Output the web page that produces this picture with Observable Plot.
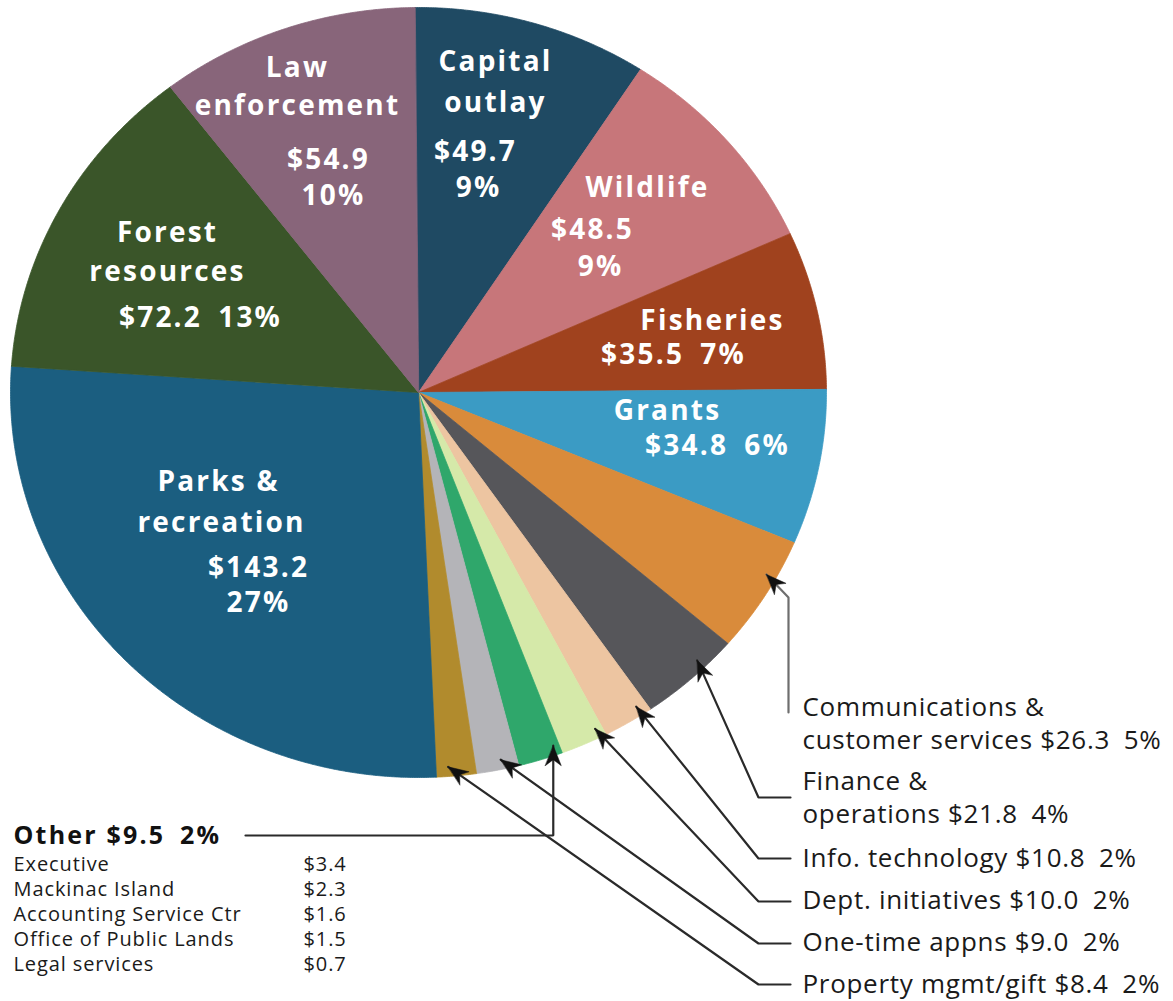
<!DOCTYPE html>
<html>
<head>
<meta charset="utf-8">
<script src="https://cdn.jsdelivr.net/npm/d3@7"></script>
<script src="https://cdn.jsdelivr.net/npm/@observablehq/plot@0.6"></script>
<style>
html, body { margin: 0; padding: 0; background: #ffffff; overflow: hidden; }
#chart svg { display: block; }
</style>
</head>
<body>
<div id="chart"></div>
<script>
// ---------------- DATA ----------------
const categories = [
  "Capital outlay", "Wildlife", "Fisheries", "Grants",
  "Communications & customer services", "Finance & operations",
  "Info. technology", "Dept. initiatives", "Other", "One-time appns",
  "Property mgmt/gift", "Parks & recreation", "Forest resources", "Law enforcement"
];
const amounts = [49.7, 48.5, 35.5, 34.8, 26.3, 21.8, 10.8, 10.0, 9.5, 9.0, 8.4, 143.2, 72.2, 54.9];
const percents = [9, 9, 7, 6, 5, 4, 2, 2, 2, 2, 2, 27, 13, 10];
const colors = [
  "#1f4a63", "#c7767a", "#a0421e", "#3b9bc4",
  "#d98b3b", "#56565a", "#edc5a1", "#d5e9a9", "#2fa76b", "#b4b4b8",
  "#b18b2d", "#1b5e80", "#3a5529", "#88657a"
];
const otherItems = ["Executive", "Mackinac Island", "Accounting Service Ctr", "Office of Public Lands", "Legal services"];
const otherAmounts = [3.4, 2.3, 1.6, 1.5, 0.7];

// ---------------- LAYOUT ----------------
const W = 1173, H = 1001;
const pieGeom = {cx: 418, cy: 392, rx: 408, ry: 385, startDeg: -0.5};

// inside labels: pixel positions of title lines and value lines
const insideLayout = [
  {name: "Capital outlay",     title: [[495, 62], [495, 103]], value: [[475, 152], [478, 188]]},
  {name: "Law enforcement",    title: [[297, 68], [297, 106]], value: [[328, 160], [333, 196]]},
  {name: "Wildlife",           title: [[647, 188]],            value: [[592, 230], [600, 267]]},
  {name: "Fisheries",          title: [[712, 321]],            value: [[673, 355]]},
  {name: "Grants",             title: [[667, 411]],            value: [[717, 446]]},
  {name: "Parks & recreation", title: [[218, 482], [221, 523]], value: [[258, 568], [258, 603]]},
  {name: "Forest resources",   title: [[167, 233], [167, 272]], value: [[200, 318]]}
];

// callouts on the right: text position, route of leader, tip position within slice
const calloutLayout = [
  {name: "Communications & customer services", tx: 802, ty: 707, gap: 33, route: [[788, 712], [788, 597]], tipFrac: 0.34, stroke: "#6e6e6e"},
  {name: "Finance & operations", tx: 802, ty: 781, gap: 33, route: [[790, 797], [758, 797]], tipFrac: 0.33, stroke: "#2a2a2a"},
  {name: "Info. technology",     tx: 802, ty: 858, gap: 0,  route: [[790, 858], [758, 858]], tipFrac: 0.20, stroke: "#2a2a2a"},
  {name: "Dept. initiatives",    tx: 802, ty: 900, gap: 0,  route: [[790, 901], [758, 901]], tipFrac: 0.15, stroke: "#2a2a2a"},
  {name: "One-time appns",       tx: 802, ty: 942, gap: 0,  route: [[790, 943], [758, 943]], tipFrac: 0.38, stroke: "#2a2a2a"},
  {name: "Property mgmt/gift",   tx: 802, ty: 984, gap: 0,  route: [[790, 984], [758, 984]], tipFrac: 0.69, stroke: "#2a2a2a"}
];
const otherLayout = {x: 13, y: 835, lineStart: 245, tipFrac: 0.13, listY0: 864, listGap: 25, valueX: 303};
const tipRadius = 0.975;
const headLen = 20, headHalf = 8, headNotch = 14;

// ---------------- GEOMETRY FROM DATA ----------------
const a0 = pieGeom.startDeg * Math.PI / 180;
const arcs = d3.pie().sort(null).value(d => d).startAngle(a0).endAngle(a0 + 2 * Math.PI)(amounts);
const byName = new Map(categories.map((c, i) => [c, i]));
const pt = (a, f = 1) => [pieGeom.cx + pieGeom.rx * f * Math.sin(a), pieGeom.cy - pieGeom.ry * f * Math.cos(a)];

const slicePts = [];
arcs.forEach((arc, i) => {
  const name = categories[i];
  slicePts.push({name, x: pieGeom.cx, y: pieGeom.cy});
  const span = arc.endAngle - arc.startAngle;
  const n = Math.max(2, Math.ceil(span / (Math.PI / 720)));
  for (let k = 0; k <= n; k++) {
    const [x, y] = pt(arc.startAngle + span * k / n);
    slicePts.push({name, x, y});
  }
});

const money = v => "$" + v.toFixed(1);
const gapStr = "\u2002";

// inside label rows
const insideTitles = [], insideValues = [];
for (const L of insideLayout) {
  const i = byName.get(L.name);
  let lines;
  if (L.title.length === 2) {
    const k = L.name.lastIndexOf(" ");
    lines = [L.name.slice(0, k), L.name.slice(k + 1)];
  } else lines = [L.name];
  lines.forEach((t, j) => insideTitles.push({text: t, x: L.title[j][0], y: L.title[j][1]}));
  const vals = L.value.length === 2 ? [money(amounts[i]), percents[i] + "%"] : [money(amounts[i]) + gapStr + percents[i] + "%"];
  vals.forEach((t, j) => insideValues.push({text: t, x: L.value[j][0], y: L.value[j][1]}));
}

// callout text rows & leader lines
const calloutText = [], leaders = [], heads = [];
function addHead(id, from, tip) {
  const dx = tip[0] - from[0], dy = tip[1] - from[1];
  const len = Math.hypot(dx, dy), ux = dx / len, uy = dy / len, nx = -uy, ny = ux;
  const bx = tip[0] - headLen * ux, by = tip[1] - headLen * uy;
  const mx = tip[0] - headNotch * ux, my = tip[1] - headNotch * uy;
  heads.push({id, x: tip[0], y: tip[1]});
  heads.push({id, x: bx + headHalf * nx, y: by + headHalf * ny});
  heads.push({id, x: mx, y: my});
  heads.push({id, x: bx - headHalf * nx, y: by - headHalf * ny});
}
function tipOf(name, frac) {
  const arc = arcs[byName.get(name)];
  return pt(arc.startAngle + (arc.endAngle - arc.startAngle) * frac, tipRadius);
}
for (const C of calloutLayout) {
  const i = byName.get(C.name);
  const tail = money(amounts[i]) + gapStr + percents[i] + "%";
  const amp = C.name.indexOf("& ");
  if (amp >= 0) {
    calloutText.push({text: C.name.slice(0, amp + 1), x: C.tx, y: C.ty});
    calloutText.push({text: C.name.slice(amp + 2) + " " + tail, x: C.tx, y: C.ty + C.gap});
  } else {
    calloutText.push({text: C.name + " " + tail, x: C.tx, y: C.ty});
  }
  const tip = tipOf(C.name, C.tipFrac);
  C.route.forEach(p => leaders.push({id: C.name, x: p[0], y: p[1], stroke: C.stroke}));
  leaders.push({id: C.name, x: tip[0], y: tip[1], stroke: C.stroke});
  addHead(C.name, C.route[C.route.length - 1], tip);
}
// Other
{
  const tip = tipOf("Other", otherLayout.tipFrac);
  leaders.push({id: "Other", x: otherLayout.lineStart, y: otherLayout.y, stroke: "#2a2a2a"});
  leaders.push({id: "Other", x: tip[0], y: otherLayout.y, stroke: "#2a2a2a"});
  leaders.push({id: "Other", x: tip[0], y: tip[1], stroke: "#2a2a2a"});
  addHead("Other", [tip[0], otherLayout.y], tip);
}
const oi = byName.get("Other");
const otherHeader = [{text: "Other " + money(amounts[oi]) + gapStr + percents[oi] + "%", x: otherLayout.x, y: otherLayout.y}];
const otherNames = otherItems.map((t, j) => ({text: t, x: otherLayout.x, y: otherLayout.listY0 + j * otherLayout.listGap}));
const otherVals = otherAmounts.map((v, j) => ({text: money(v), x: otherLayout.valueX, y: otherLayout.listY0 + j * otherLayout.listGap}));

// ---------------- PLOT ----------------
const FONT = "Open Sans, Noto Sans, sans-serif";
const chart = Plot.plot({
  width: W, height: H,
  margin: 0,
  x: {type: "linear", domain: [0, W], range: [0, W], axis: null},
  y: {type: "linear", domain: [0, H], range: [0, H], axis: null},
  color: {domain: categories, range: colors},
  style: {background: "#ffffff", fontFamily: FONT},
  marks: [
    Plot.line(slicePts, {x: "x", y: "y", z: "name", fill: "name", stroke: "name", strokeWidth: 0.8, curve: "linear-closed"}),
    Plot.line(leaders, {x: "x", y: "y", z: "id", stroke: "stroke", strokeWidth: 2.2, strokeLinejoin: "miter"}),
    Plot.line(heads, {x: "x", y: "y", z: "id", fill: "#111111", stroke: "#111111", strokeWidth: 0.5, curve: "linear-closed"}),
    Plot.text(insideTitles, {x: "x", y: "y", text: "text", fill: "#ffffff", fontSize: 28, fontWeight: 700, fontFamily: FONT, textAnchor: "middle", lineAnchor: "middle"}),
    Plot.text(insideValues, {x: "x", y: "y", text: "text", fill: "#ffffff", fontSize: 28, fontWeight: 700, fontFamily: FONT, textAnchor: "middle", lineAnchor: "middle"}),
    Plot.text(calloutText, {x: "x", y: "y", text: "text", fill: "#1a1a1a", fontSize: 26, fontWeight: 400, fontFamily: FONT, textAnchor: "start", lineAnchor: "middle"}),
    Plot.text(otherHeader, {x: "x", y: "y", text: "text", fill: "#111111", fontSize: 25, fontWeight: 700, fontFamily: FONT, textAnchor: "start", lineAnchor: "middle"}),
    Plot.text(otherNames, {x: "x", y: "y", text: "text", fill: "#1a1a1a", fontSize: 20, fontWeight: 400, fontFamily: FONT, textAnchor: "start", lineAnchor: "middle"}),
    Plot.text(otherVals, {x: "x", y: "y", text: "text", fill: "#1a1a1a", fontSize: 20, fontWeight: 400, fontFamily: FONT, textAnchor: "start", lineAnchor: "middle"})
  ]
});
// letter spacing per text group
const spacing = [2.2, 2.2, 0.7, 2.2, 0.9, 0.9];
chart.querySelectorAll('g[aria-label="text"]').forEach((g, k) => {
  if (spacing[k] != null) g.setAttribute("letter-spacing", spacing[k]);
});
document.getElementById("chart").appendChild(chart);
</script>
</body>
</html>
